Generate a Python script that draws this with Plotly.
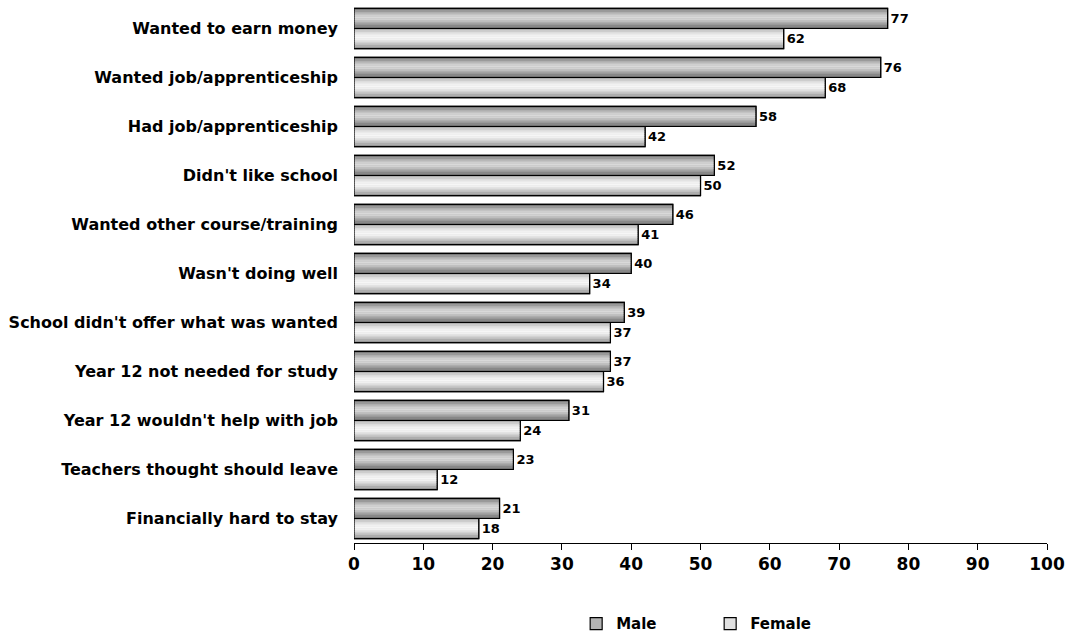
import plotly.graph_objects as go

categories = [
    "Wanted to earn money",
    "Wanted job/apprenticeship",
    "Had job/apprenticeship",
    "Didn't like school",
    "Wanted other course/training",
    "Wasn't doing well",
    "School didn't offer what was wanted",
    "Year 12 not needed for study",
    "Year 12 wouldn't help with job",
    "Teachers thought should leave",
    "Financially hard to stay",
]
male = [77, 76, 58, 52, 46, 40, 39, 37, 31, 23, 21]
female = [62, 68, 42, 50, 41, 34, 37, 36, 24, 12, 18]
x_ticks = [0, 10, 20, 30, 40, 50, 60, 70, 80, 90, 100]

FONT = "DejaVu Sans"
W = 0.41
male_grad = ["#7c7c7c", "#9a9a9a", "#b8b8b8", "#cfcfcf", "#d9d9d9",
             "#d2d2d2", "#bdbdbd", "#a2a2a2", "#888888", "#727272"]
female_grad = ["#b0b0b0", "#cdcdcd", "#e3e3e3", "#f1f1f1", "#f6f6f6",
               "#f0f0f0", "#dedede", "#c6c6c6", "#adadad", "#969696"]

fig = go.Figure()

series = [("Male", male, -W, male_grad, "#b4b4b4"),
          ("Female", female, 0.0, female_grad, "#e0e0e0")]

# base traces (legend)
for name, vals, off, grad, mid in series:
    fig.add_trace(go.Bar(
        x=vals, y=categories, orientation="h", name=name,
        width=W, offset=off,
        marker=dict(color=mid, line=dict(color="#000000", width=1.2)),
        showlegend=True, hoverinfo="skip",
    ))

# gradient stripes
for name, vals, off, grad, mid in series:
    n = len(grad)
    sw = W / n
    for i, c in enumerate(grad):
        fig.add_trace(go.Bar(
            x=vals, y=categories, orientation="h", name=name,
            width=sw * 1.02, offset=off + i * sw,
            marker=dict(color=c, line=dict(width=0)),
            showlegend=False, hoverinfo="skip",
        ))

# outlines with value labels
for name, vals, off, grad, mid in series:
    fig.add_trace(go.Bar(
        x=vals, y=categories, orientation="h", name=name,
        width=W, offset=off,
        marker=dict(color="rgba(0,0,0,0)", line=dict(color="#000000", width=1.2)),
        text=[str(v) for v in vals], textposition="outside",
        textfont=dict(family=FONT, size=13, color="#000000"),
        cliponaxis=False,
        showlegend=False, hoverinfo="skip",
    ))

fig.update_layout(
    width=1065, height=635,
    barmode="overlay",
    paper_bgcolor="white", plot_bgcolor="white",
    margin=dict(l=354, r=18, t=4, b=92, autoexpand=False),
    font=dict(family=FONT, color="#000000"),
    xaxis=dict(
        range=[0, 100], tickvals=x_ticks, ticktext=[str(t) for t in x_ticks],
        showgrid=False, zeroline=False, automargin=False,
        showline=True, linecolor="#000000", linewidth=1,
        ticks="outside", ticklen=6, tickcolor="#000000",
        tickfont=dict(family=FONT, size=17, color="#000000", weight="bold"),
    ),
    yaxis=dict(
        categoryorder="array", categoryarray=categories,
        range=[10.5, -0.5], automargin=False,
        showgrid=False, zeroline=False, showline=False,
        ticks="", ticklabelstandoff=15,
        tickfont=dict(family=FONT, size=16, color="#000000", weight="bold"),
    ),
    legend=dict(
        orientation="h", x=0.541, xanchor="left", xref="container",
        y=-0.150, yanchor="middle", yref="paper",
        font=dict(family=FONT, size=15, color="#000000", weight="bold"),
        entrywidth=89, tracegroupgap=0,
    ),
    showlegend=True,
)
fig.update_traces(textfont_weight="bold", selector=dict(type="bar"))

fig.write_html("out.html", config={"displayModeBar": False},
               post_script="document.body.style.margin='0';")
